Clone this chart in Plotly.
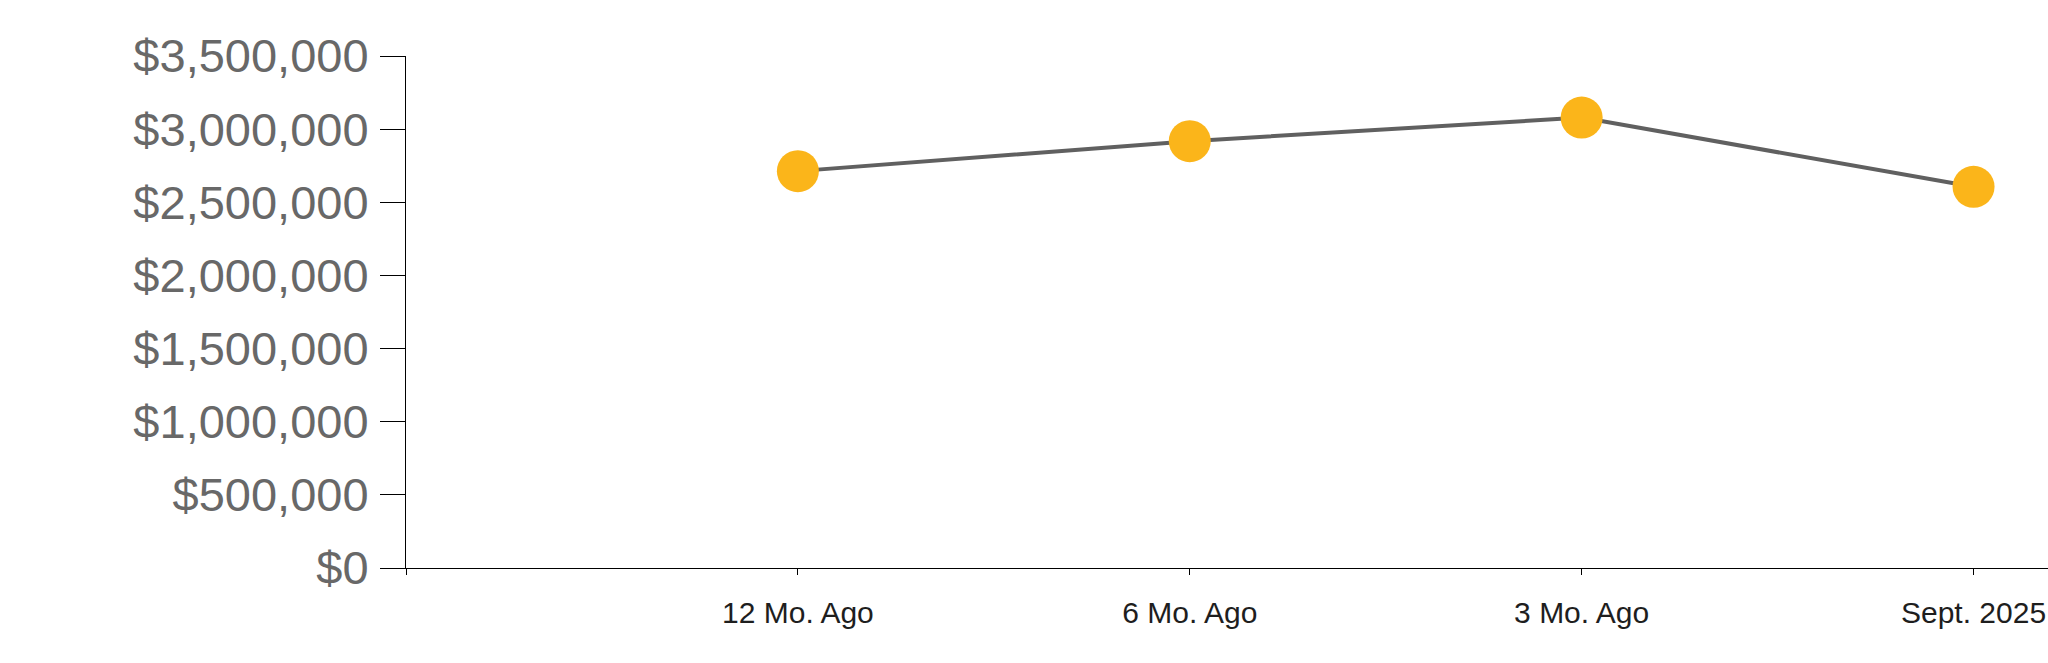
import plotly.graph_objects as go

categories = ["12 Mo. Ago", "6 Mo. Ago", "3 Mo. Ago", "Sept. 2025"]
values = [2713000, 2918000, 3079000, 2606000]
y_ticks = [0, 500000, 1000000, 1500000, 2000000, 2500000, 3000000, 3500000]
y_tick_labels = ["$0", "$500,000", "$1,000,000", "$1,500,000", "$2,000,000",
                 "$2,500,000", "$3,000,000", "$3,500,000"]

x_pos = list(range(1, len(categories) + 1))

fig = go.Figure()
fig.add_trace(go.Scatter(
    x=x_pos, y=values, mode="lines+markers",
    line=dict(color="#606060", width=4),
    marker=dict(color="#FBB51A", size=42, line=dict(width=0)),
    hoverinfo="skip",
))

fig.update_layout(
    width=2048, height=663,
    margin=dict(l=406, r=0, t=56, b=95),
    paper_bgcolor="white", plot_bgcolor="white",
    showlegend=False,
    font=dict(family="Liberation Sans, Arial, sans-serif"),
)
fig.update_xaxes(
    range=[0, 4.19], tickmode="array",
    tickvals=[0] + x_pos, ticktext=[""] + categories,
    showline=True, linecolor="#000000", linewidth=1,
    ticks="outside", ticklen=6, tickcolor="#000000", tickwidth=1,
    showgrid=False, zeroline=False,
    tickfont=dict(size=30, color="#1e1e1e"),
    ticklabelstandoff=12,
)
fig.update_yaxes(
    range=[0, 3500000], tickmode="array", tickvals=y_ticks, ticktext=y_tick_labels,
    showline=True, linecolor="#000000", linewidth=1,
    ticks="outside", ticklen=25, tickcolor="#000000", tickwidth=1,
    showgrid=False, zeroline=False,
    tickfont=dict(size=47, color="#686868"),
    ticklabelstandoff=2,
)

fig.write_html("out.html", config={"displayModeBar": False},
               post_script="document.body.style.margin='0';document.body.style.padding='0';")
